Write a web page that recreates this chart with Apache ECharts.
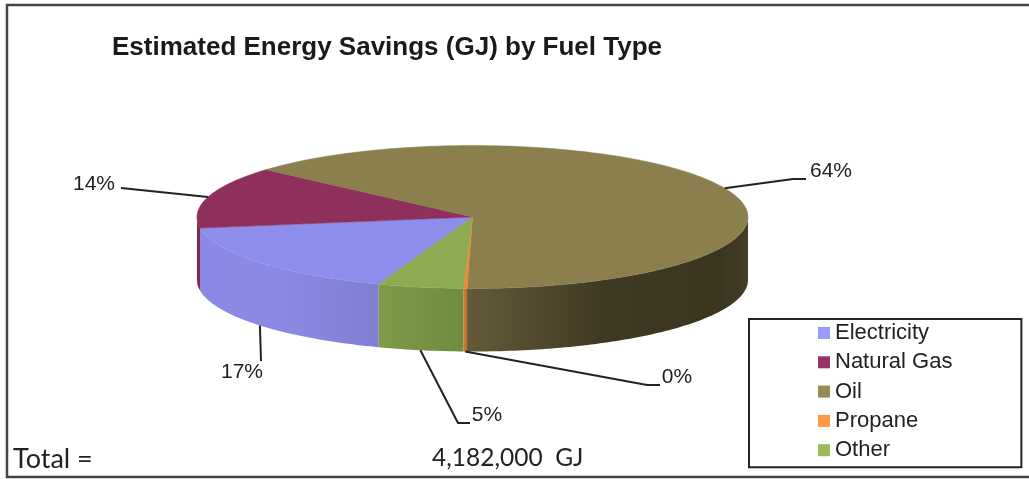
<!DOCTYPE html>
<html lang="en">
<head>
  <meta charset="utf-8">
  <title>Estimated Energy Savings (GJ) by Fuel Type</title>
  <script src="https://cdn.jsdelivr.net/npm/echarts@6/dist/echarts.min.js"></script>
  <style>
    html, body { margin: 0; padding: 0; background: #fff; }
    #chart { width: 1029px; height: 479px; }
  </style>
</head>
<body>
  <div id="chart"></div>
  <script>
    // GJ (percent labels and the 4,182,000 total)
    var fuels = ['Electricity', 'Natural Gas', 'Oil', 'Propane', 'Other'];
    var savings = [711000, 585000, 2668000, 9000, 209000];
    var titleText = 'Estimated Energy Savings (GJ) by Fuel Type';

    // colours
    var swatchColors = ['#9999ff', '#993366', '#948a54', '#ff9944', '#9bbb59'];
    var topColors = ['#8d8dec', '#8e2f5c', '#8a7f4d', '#f08a38', '#8dab50'];
    var wallStops = [
      [[0, '#8a8ae6'], [0.45, '#8a8ae4'], [1, '#7e7ed2']],
      [[0, '#7e2852'], [1, '#7e2852']],
      [[0, '#645a3a'], [0.5, '#3f3822'], [0.9, '#3b3520'], [1, '#423c28']],
      [[0, '#d0792f'], [1, '#c0702a']],
      [[0, '#7d9b49'], [1, '#6e8c3e']]
    ];

    // pie geometry in pixels
    var cx = 472.5, cy = 217, rx = 275.5, ry = 71.5, depth = 63;
    var startAngle = 19.9; // clockwise from the bottom of the pie

    // leader line elbow, leader end and label position per fuel
    var leaders = [
      { elbow: [261, 361], end: null, label: [242, 372] },
      { elbow: [121, 188], end: null, label: [94, 184] },
      { elbow: [793, 179], end: [806, 179], label: [831, 171] },
      { elbow: [647, 385], end: [660, 385], label: [677, 377] },
      { elbow: [458, 423], end: [470, 423], label: [487, 415] }
    ];

    var total = savings.reduce(function (a, b) { return a + b; }, 0);

    function rimPoint(deg, drop) {
      var r = deg * Math.PI / 180;
      return [cx - rx * Math.sin(r), cy + ry * Math.cos(r) + (drop || 0)];
    }

    function arc(from, to, drop) {
      var pts = [];
      var n = Math.max(2, Math.ceil(Math.abs(to - from)));
      for (var i = 0; i <= n; i++) {
        pts.push(rimPoint(from + (to - from) * i / n, drop));
      }
      return pts;
    }

    function sliceChildren(idx, value) {
      var before = 0;
      for (var i = 0; i < idx; i++) before += savings[i];
      var a0 = startAngle + before / total * 360;
      var a1 = a0 + value / total * 360;
      var children = [];

      // only the part of the wall that faces the viewer
      [[-90, 90], [270, 450]].forEach(function (range) {
        var from = Math.max(a0, range[0]), to = Math.min(a1, range[1]);
        if (to <= from) return;
        var pts = arc(from, to, 0).concat(arc(from, to, depth).reverse());
        children.push({
          type: 'polygon',
          shape: { points: pts },
          style: {
            fill: new echarts.graphic.LinearGradient(0, 0, 1, 0, wallStops[idx].map(function (s) {
              return { offset: s[0], color: s[1] };
            })),
            stroke: null
          }
        });
      });

      children.push({
        type: 'polygon',
        shape: { points: [[cx, cy]].concat(arc(a0, a1, 0)) },
        style: { fill: topColors[idx], stroke: topColors[idx], lineWidth: 0.5 }
      });

      // leader starts on the rim at the middle of the slice
      var mid = (a0 + a1) / 2;
      var midCos = Math.cos(mid * Math.PI / 180);
      var anchor = rimPoint(mid, midCos > 0 ? depth : 0);
      var lead = leaders[idx];
      var line = [anchor, lead.elbow];
      if (lead.end) line.push(lead.end);
      children.push({
        type: 'polyline',
        shape: { points: line },
        style: { stroke: '#222', lineWidth: 2, fill: null }
      });
      children.push({
        type: 'text',
        x: lead.label[0],
        y: lead.label[1],
        style: {
          text: Math.round(value / total * 100) + '%',
          fill: '#222',
          font: '21px "Liberation Sans", Arial, sans-serif',
          align: 'center',
          verticalAlign: 'middle'
        }
      });
      return { type: 'group', children: children };
    }

    var seriesList = fuels.map(function (name, i) {
      return {
        type: 'custom',
        name: name,
        coordinateSystem: 'none',
        silent: true,
        animation: false,
        itemStyle: { color: swatchColors[i] },
        data: [[savings[i]]],
        renderItem: function (params, api) {
          return sliceChildren(i, api.value(0));
        }
      };
    });

    var chart = echarts.init(document.getElementById('chart'), null, { renderer: 'canvas' });
    chart.setOption({
      backgroundColor: '#fff',
      animation: false,
      title: {
        text: titleText,
        left: 112,
        top: 35,
        padding: 0,
        textStyle: { color: '#1a1a1a', fontFamily: '"Liberation Sans", Arial, sans-serif', fontWeight: 'bold', fontSize: 26 }
      },
      legend: {
        data: fuels,
        orient: 'vertical',
        left: 749,
        top: 319,
        align: 'left',
        padding: [3, 69, 6, 69],
        itemWidth: 12,
        itemHeight: 12,
        itemGap: 7.3,
        icon: 'rect',
        backgroundColor: '#fff',
        borderColor: '#222',
        borderWidth: 2,
        borderRadius: 0,
        selectedMode: false,
        textStyle: { color: '#222', fontFamily: '"Liberation Sans", Arial, sans-serif', fontSize: 22 }
      },
      graphic: [
        { type: 'polyline', silent: true, shape: { points: [[1029, 5], [7, 5], [7, 477], [1029, 477]] }, style: { stroke: '#444', lineWidth: 2.5, fill: null } },
        { type: 'text', silent: true, x: 13, y: 459, style: { text: 'Total =', fill: '#222', font: '27px Lato, sans-serif', verticalAlign: 'middle' } },
        { type: 'text', silent: true, x: 432, y: 458, style: { text: total.toLocaleString('en-US') + '  GJ', fill: '#222', font: '24.5px Lato, sans-serif', verticalAlign: 'middle' } }
      ],
      series: seriesList
    });
  </script>
</body>
</html>
